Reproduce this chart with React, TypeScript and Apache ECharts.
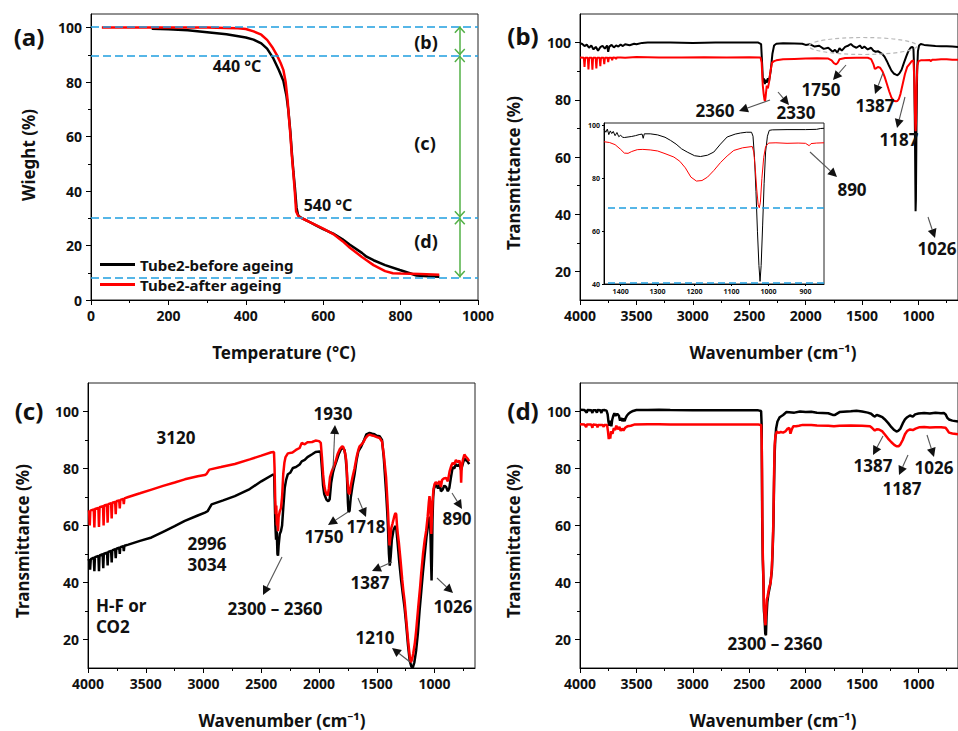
import React, { useEffect, useRef } from "react";
import * as echarts from "echarts";

// ---------- data ----------
const tgaBefore: number[][] = [
  [157, 99.6], [200, 99.4], [250, 99.0], [300, 98.3], [350, 97.6], [400, 96.4], [420, 95.6], [440, 94.2],
  [455, 92.3], [470, 89.0], [485, 84.5], [497, 80.5], [505, 75.0], [510, 69.5], [515, 62.0], [519, 54.0],
  [523, 47.0], [527, 41.0], [531, 34.0], [535, 31.2], [540, 30.4], [560, 29.0], [580, 27.5], [600, 26.0],
  [626, 24.4], [650, 22.3], [669, 20.3], [700, 17.3], [712, 15.9], [730, 14.6], [760, 12.8], [798, 11.0],
  [820, 10.0], [841, 9.0], [870, 8.7], [900, 8.5],
];
const tgaAfter: number[][] = [
  [28, 100], [100, 100], [200, 100], [300, 100], [350, 99.9], [380, 99.8], [400, 99.5], [420, 98.6],
  [440, 97.4], [455, 95.5], [470, 92.5], [480, 90.0], [490, 87.0], [497, 84.5], [503, 80.0], [508, 73.5],
  [512, 66.0], [515, 61.0], [519, 53.0], [523, 46.5], [527, 39.0], [530, 32.5], [535, 31.0], [540, 30.3],
  [560, 29.0], [600, 26.2], [626, 24.2], [650, 21.6], [669, 19.2], [700, 15.8], [712, 14.6], [730, 12.8],
  [760, 10.6], [780, 9.8], [800, 9.7], [850, 9.5], [900, 9.3],
];
const tgaGuides = [100.5, 89.8, 30.2, 8.3];
const tgaRegionX = 953;

const bBlack: number[][] = [
  [4000, 99.8], [3980, 99.5], [3960, 98.8], [3940, 99.3], [3920, 98.2], [3900, 99.0], [3880, 97.6], [3860, 98.5],
  [3840, 97.2], [3820, 98.4], [3800, 98.9], [3780, 97.9], [3760, 99.0], [3750, 96.8], [3740, 98.6], [3720, 99.2],
  [3700, 98.3], [3680, 99.0], [3660, 98.6], [3640, 99.3], [3620, 98.8], [3600, 99.4], [3560, 99.1], [3520, 99.6],
  [3500, 99.4], [3450, 99.9], [3400, 100], [3200, 100], [3000, 99.9], [2800, 100], [2600, 100], [2420, 100],
  [2395, 99.5], [2385, 92], [2378, 86], [2370, 87.5], [2362, 85.5], [2355, 87], [2345, 86], [2335, 87.5],
  [2325, 86.5], [2310, 90], [2295, 96], [2280, 99], [2260, 99.6], [2200, 99.8], [2100, 99.7], [2030, 99.6],
  [2000, 99.2], [1960, 99.4], [1920, 98.6], [1880, 98.9], [1840, 97.8], [1800, 98.2], [1760, 96.8], [1740, 97.5],
  [1720, 96.5], [1700, 98], [1680, 97.2], [1650, 98.5], [1620, 99], [1600, 99.5], [1580, 98.8], [1550, 98.2],
  [1520, 99], [1500, 98], [1480, 98.6], [1450, 97.6], [1420, 98.2], [1400, 97.2], [1380, 96.8], [1360, 97],
  [1340, 96.5], [1320, 96], [1300, 95], [1280, 93.5], [1260, 91.8], [1240, 90.2], [1220, 89.2], [1200, 88.8],
  [1187, 88.6], [1170, 89.2], [1150, 90.5], [1130, 92.8], [1110, 95], [1090, 97], [1070, 98.2], [1055, 98.5],
  [1045, 98], [1038, 90], [1032, 70], [1028, 50], [1026, 41], [1023, 45], [1018, 70], [1012, 90], [1005, 97],
  [995, 99], [980, 99.5], [950, 99.2], [900, 99], [850, 98.8], [800, 98.7], [750, 98.7], [700, 98.6], [650, 98.5],
];
const bRed: number[][] = [
  [4000, 94.8], [3966, 94.7], [3960, 91.5], [3954, 94.7], [3931, 94.7], [3925, 90.6], [3919, 94.7],
  [3896, 94.7], [3890, 90.5], [3884, 94.7], [3861, 94.7], [3855, 91], [3849, 94.7], [3826, 94.7], [3820, 91.8],
  [3814, 94.7], [3791, 94.7], [3785, 92.5], [3779, 94.7], [3756, 94.7], [3750, 93.2], [3744, 94.7],
  [3721, 94.7], [3715, 93.8], [3709, 94.8], [3686, 94.7], [3680, 94.2], [3674, 94.8], [3640, 94.8],
  [3600, 94.7], [3500, 95], [3300, 94.8], [3100, 94.8], [2900, 94.9], [2700, 94.8], [2500, 94.9], [2400, 94.8],
  [2390, 93], [2380, 85], [2372, 82], [2365, 80], [2360, 79.5], [2355, 81], [2345, 85], [2335, 84], [2325, 86],
  [2312, 90], [2298, 93], [2280, 93.5], [2260, 93.8], [2200, 94.2], [2100, 94.3], [2000, 94.4], [1900, 94.5],
  [1800, 94.4], [1770, 93.8], [1750, 92.8], [1730, 92.4], [1715, 93], [1700, 94.2], [1650, 94.6], [1550, 94.7],
  [1450, 94.7], [1420, 94.2], [1400, 92.5], [1387, 90.8], [1375, 91], [1360, 91.5], [1340, 91.2], [1320, 90],
  [1300, 88], [1280, 85.5], [1260, 83], [1240, 80.8], [1220, 79.7], [1200, 79.5], [1187, 79.6], [1175, 80.2],
  [1160, 82], [1140, 85.5], [1120, 89], [1100, 91.5], [1080, 92.5], [1060, 93.5], [1045, 93.8], [1038, 88],
  [1032, 76], [1028, 70], [1026, 69], [1022, 72], [1017, 85], [1010, 92], [1000, 93.5], [980, 93.8], [950, 93.8],
  [900, 93.9], [890, 93.5], [880, 94], [850, 94], [800, 94.2], [750, 94.2], [700, 94], [650, 94],
];

const insetBlack: number[][] = [
  [1445, 98.6], [1440, 97.5], [1436, 98.7], [1432, 96.6], [1428, 98], [1424, 97], [1420, 97.8], [1415, 96.2],
  [1410, 97.4], [1405, 95.8], [1400, 96.4], [1395, 95.6], [1390, 95.5], [1380, 95.7], [1370, 95.9], [1360, 96.2],
  [1350, 96.6], [1342, 96.8], [1339, 95.2], [1336, 96.9], [1320, 96.9], [1300, 96.5], [1280, 95.6], [1265, 94.4],
  [1250, 93], [1235, 91.2], [1220, 90], [1200, 88.6], [1184, 88.3], [1165, 88.8], [1148, 90], [1130, 93],
  [1112, 95.7], [1090, 96.8], [1076, 97.2], [1060, 97.5], [1046, 97.5], [1042, 96], [1038, 88], [1034, 75],
  [1030, 60], [1026, 47], [1023, 41], [1020, 47], [1016, 62], [1012, 78], [1008, 90], [1003, 96], [998, 98.2],
  [990, 98.4], [950, 98.5], [900, 98.5], [870, 98.6], [860, 98.9], [850, 99],
];
const insetRed: number[][] = [
  [1445, 93.9], [1430, 93.6], [1415, 92.8], [1400, 91], [1390, 89.6], [1380, 89.5], [1370, 90.2], [1355, 90.9],
  [1340, 91], [1320, 90.8], [1300, 90.4], [1280, 89.4], [1256, 88.1], [1240, 86.5], [1225, 84], [1210, 80.5],
  [1195, 79], [1180, 79.2], [1165, 80.5], [1148, 83], [1130, 86], [1112, 88.5], [1094, 90.6], [1070, 91.6],
  [1044, 92.1], [1040, 90], [1036, 84], [1032, 76], [1028, 70], [1025, 68.9], [1022, 71], [1018, 80], [1013, 88],
  [1008, 92], [1000, 93.4], [980, 93.5], [950, 93.3], [920, 93.4], [900, 93.3], [890, 92.4], [885, 93.2],
  [870, 93.4], [850, 93.5],
];
const insetGuides = [68.9, 40.6];

const cBlack: number[][] = [
  [4000, 47.6], [3988, 48], [3982, 44.5], [3976, 48.2], [3950, 48.7], [3945, 44], [3940, 48.9], [3910, 49.3],
  [3905, 44], [3900, 49.5], [3873, 49.9], [3868, 45], [3863, 50.1], [3835, 50.5], [3830, 46], [3825, 50.7],
  [3800, 51.1], [3795, 47], [3790, 51.3], [3765, 51.7], [3760, 48.5], [3755, 51.9], [3730, 52.2], [3725, 50],
  [3720, 52.4], [3695, 52.7], [3690, 51], [3685, 52.9], [3651, 53.3],
  [3550, 54.6], [3450, 55.8], [3350, 57.8], [3250, 59.8], [3162, 61.6], [3050, 63.5], [2988, 64.5], [2965, 65],
  [2930, 67.4], [2830, 68.8], [2729, 70.3], [2600, 72.8], [2500, 75.5], [2398, 77.9], [2388, 77.5], [2384, 70],
  [2378, 60], [2372, 55], [2366, 58], [2360, 50], [2355, 49.4], [2350, 53], [2340, 57], [2330, 58], [2320, 60],
  [2310, 66], [2297, 73.2], [2285, 76], [2270, 78], [2250, 78.5], [2226, 80.2], [2200, 80.5], [2168, 81.4],
  [2150, 82.5], [2124, 83], [2100, 84], [2060, 85], [2030, 85.8], [1995, 86], [1985, 85.5], [1975, 80],
  [1965, 74], [1955, 71], [1945, 70], [1935, 69], [1920, 68.5], [1908, 69.2], [1895, 75], [1880, 78.5],
  [1865, 80.8], [1850, 82.5], [1830, 85], [1810, 86.8], [1793, 87.2], [1780, 86.5], [1770, 84], [1760, 79],
  [1750, 68], [1745, 64.8], [1736, 65.1], [1725, 70], [1710, 74], [1693, 77.9], [1675, 83], [1660, 86],
  [1634, 87.8], [1610, 90], [1590, 92], [1563, 92.5], [1540, 92.2], [1520, 92], [1500, 91.5], [1476, 91.3],
  [1455, 90], [1440, 84], [1430, 78], [1420, 72], [1410, 65], [1404, 60], [1395, 50], [1388, 45.9], [1380, 49],
  [1370, 55], [1355, 58.5], [1340, 59.8], [1332, 59.3], [1320, 54], [1305, 47], [1290, 41], [1275, 36],
  [1260, 31.3], [1245, 25], [1230, 18], [1215, 12.5], [1200, 10.4], [1188, 10.2], [1175, 12], [1160, 16],
  [1145, 22], [1130, 30], [1115, 37], [1102, 43], [1085, 50], [1070, 56], [1059, 59.3], [1048, 62.5],
  [1040, 63], [1034, 55], [1030, 47], [1026, 40.7], [1022, 50], [1018, 62], [1012, 70], [1005, 73], [987, 74.4],
  [970, 73], [955, 74.5], [945, 72], [930, 72.6], [915, 74], [900, 73.5], [885, 72], [872, 73.2], [860, 76.5],
  [843, 80.5], [830, 80], [815, 81.5], [800, 80.8], [785, 81.5], [770, 79.5], [755, 81.8], [742, 83.5],
  [730, 83], [715, 82.5], [700, 81.5],
];
const cRed: number[][] = [
  [4000, 64.8], [3990, 65], [3985, 60], [3980, 65.2], [3950, 65.6], [3945, 59.3], [3940, 65.8], [3910, 66.2],
  [3905, 59.5], [3900, 66.4], [3870, 66.8], [3865, 60], [3860, 67], [3835, 67.3], [3830, 61], [3825, 67.5],
  [3800, 67.8], [3795, 62.5], [3790, 68], [3765, 68.3], [3760, 64], [3755, 68.5], [3730, 68.8], [3725, 66],
  [3720, 69], [3695, 69.3], [3690, 67.5], [3685, 69.5], [3651, 70],
  [3550, 71.3], [3450, 72.6], [3350, 73.9], [3250, 75.1], [3162, 76.2], [3050, 77.3], [2990, 77.7], [2975, 78],
  [2950, 79.6], [2850, 80.5], [2729, 81.6], [2600, 83.2], [2500, 84.5], [2412, 85.7], [2390, 85.8], [2385, 80],
  [2380, 70], [2375, 64], [2370, 67], [2365, 60], [2360, 64], [2355, 58], [2350, 63], [2340, 65], [2330, 66],
  [2320, 70], [2310, 78], [2300, 82], [2290, 84], [2270, 85.3], [2230, 85.6], [2200, 86.5], [2168, 87.2],
  [2150, 89], [2124, 88.5], [2100, 89.2], [2060, 89.3], [2030, 89.8], [2000, 89.6], [1985, 89], [1975, 84],
  [1965, 78], [1955, 74], [1945, 72], [1935, 71], [1925, 70.5], [1915, 73], [1905, 77], [1890, 79], [1880, 80],
  [1860, 82], [1840, 85], [1820, 86.8], [1800, 87.8], [1790, 87.5], [1775, 85.5], [1765, 83], [1755, 76],
  [1745, 71.5], [1735, 71], [1725, 74], [1710, 77], [1693, 80], [1675, 84], [1660, 86.5], [1649, 87.8],
  [1620, 89], [1600, 90.5], [1580, 91.5], [1563, 91.9], [1540, 91.6], [1520, 91.4], [1500, 91], [1476, 90.7],
  [1455, 89.5], [1440, 85], [1430, 81], [1420, 77], [1410, 70], [1402, 64], [1395, 57], [1390, 53], [1385, 55],
  [1375, 59], [1365, 60.5], [1350, 63], [1340, 64.3], [1332, 64], [1325, 60], [1318, 57], [1309, 54], [1295, 48],
  [1280, 41], [1270, 37], [1260, 33.7], [1245, 27], [1230, 20], [1215, 14], [1205, 12], [1195, 13], [1185, 15],
  [1170, 19], [1159, 23.2], [1140, 32], [1125, 38.5], [1116, 43], [1100, 50], [1085, 55], [1073, 58.1],
  [1060, 63], [1050, 68], [1044, 70.3], [1038, 68], [1032, 60], [1028, 57], [1024, 62], [1018, 68], [1010, 72.5],
  [1001, 74.4], [990, 75.2], [975, 74.5], [958, 75.6], [945, 73.5], [935, 76], [920, 76.5], [900, 76.7],
  [885, 75.5], [870, 79], [855, 81], [843, 82], [830, 81.5], [815, 83], [800, 82.2], [785, 82.8], [775, 81],
  [770, 75], [765, 80.5], [755, 83], [742, 84.9], [730, 84.2], [715, 83.5], [700, 82.6],
];

const dBlack: number[][] = [
  [4000, 100.6], [3960, 100.5], [3940, 99.6], [3935, 100.5], [3900, 100.4], [3890, 99.5], [3885, 100.4],
  [3860, 100.4], [3850, 99.6], [3845, 100.5], [3820, 100.4], [3810, 99.5], [3805, 100.4], [3780, 100.5],
  [3765, 100.3], [3755, 99], [3748, 96.5], [3740, 95], [3730, 96.8], [3722, 94.8], [3715, 97], [3705, 98.5],
  [3695, 99.4], [3685, 98.5], [3670, 99.2], [3655, 98.5], [3645, 96.8], [3635, 97.8], [3625, 96.6], [3615, 97.6],
  [3605, 96.6], [3595, 97.8], [3585, 98.5], [3570, 99.2], [3550, 99.8], [3530, 100.2], [3500, 100.5],
  [3400, 100.5], [3300, 100.6], [3200, 100.5], [3000, 100.4], [2800, 100.4], [2600, 100.4], [2420, 100.4],
  [2395, 100.2], [2390, 95], [2388, 80], [2385, 62], [2380, 48], [2374, 40], [2370, 30], [2365, 28], [2358, 22],
  [2352, 21.5], [2347, 28], [2340, 33], [2330, 36], [2315, 39], [2300, 44], [2292, 52], [2286, 60], [2280, 75],
  [2275, 85], [2270, 90], [2262, 94], [2250, 96.5], [2230, 98], [2200, 98.8], [2170, 99.8], [2100, 99.6],
  [2050, 100], [2000, 99.8], [1950, 99.9], [1900, 99.6], [1800, 99.4], [1760, 98.8], [1740, 98.8], [1700, 99.8],
  [1600, 100.1], [1550, 100.3], [1500, 100], [1450, 99.6], [1420, 99.2], [1400, 98.5], [1387, 98.2],
  [1370, 98.8], [1350, 98.5], [1320, 98], [1300, 97.3], [1270, 96], [1240, 94.5], [1215, 93.5], [1195, 93],
  [1180, 93.2], [1160, 94], [1140, 95.8], [1120, 97.2], [1100, 98], [1076, 98.6], [1050, 98.2], [1030, 99],
  [1000, 99.3], [950, 99.5], [900, 99.3], [850, 99.6], [800, 99.4], [775, 99.5], [760, 99], [745, 97.8],
  [730, 97.2], [700, 96.8], [650, 96.5],
];
const dRed: number[][] = [
  [4000, 95.5], [3960, 95.4], [3945, 94.5], [3940, 95.4], [3900, 95.4], [3890, 94.3], [3885, 95.4], [3850, 95.3],
  [3845, 94.4], [3840, 95.3], [3800, 95.3], [3790, 94.6], [3785, 95.3], [3760, 95.3], [3752, 93], [3745, 90.3],
  [3738, 92], [3732, 90.5], [3725, 93], [3712, 92.2], [3700, 94.2], [3690, 93.5], [3678, 95], [3665, 93.8],
  [3650, 94.6], [3640, 93.2], [3628, 94], [3615, 93.3], [3600, 94.3], [3580, 94.8], [3550, 95], [3520, 95.4],
  [3400, 95.5], [3300, 95.5], [3200, 95.4], [3000, 95.4], [2800, 95.4], [2600, 95.4], [2420, 95.4],
  [2395, 95.3], [2390, 90], [2387, 80], [2384, 62], [2380, 50], [2375, 42], [2370, 32], [2365, 29], [2360, 26],
  [2356, 25], [2350, 30], [2345, 34], [2338, 35], [2325, 38], [2310, 40], [2300, 45], [2292, 53], [2286, 62],
  [2280, 78], [2275, 88], [2268, 91.5], [2255, 93], [2240, 92.5], [2220, 92.8], [2200, 92.6], [2180, 93],
  [2160, 94], [2145, 94.2], [2135, 92.2], [2125, 93.5], [2110, 94.8], [2085, 94.8], [2060, 95], [2027, 95.3],
  [1950, 95.3], [1900, 95.1], [1800, 95], [1750, 94.8], [1700, 95], [1600, 95.1], [1500, 95], [1430, 94.8],
  [1410, 94.2], [1387, 93.3], [1370, 93.8], [1350, 93.7], [1320, 93], [1300, 92], [1270, 90.5], [1240, 89.2],
  [1215, 88.3], [1195, 87.8], [1177, 87.8], [1160, 88.5], [1140, 90], [1120, 92], [1100, 93.2], [1076, 93.7],
  [1050, 93.5], [1026, 94], [990, 94.5], [950, 94.6], [900, 94.4], [850, 94.5], [800, 94.5], [760, 94.3],
  [745, 93.5], [730, 92.6], [700, 92.3], [650, 92],
];

const tempTicks = [0, 200, 400, 600, 800, 1000];
const tempMinor = [100, 300, 500, 700, 900];
const weightTicks = [0, 20, 40, 60, 80, 100];
const weightMinor = [10, 30, 50, 70, 90];
const waveTicks = [1000, 1500, 2000, 2500, 3000, 3500, 4000];
const waveMinor = [750, 1250, 1750, 2250, 2750, 3250, 3750];
const transTicks = [20, 40, 60, 80, 100];
const transMinor = [30, 50, 70, 90];
const insetXTicks = [900, 1000, 1100, 1200, 1300, 1400];
const insetYTicks = [40, 60, 80, 100];

const BEFORE = "Tube2-before ageing";
const AFTER = "Tube2-after ageing";

// ---------- styling helpers ----------
const FONT = "'Noto Sans', 'DejaVu Sans', sans-serif";
const BLACK = "#000000";
const RED = "#ff0000";
const BLUE = "#1f9ee0";
const GREEN = "#52b046";

const xAxis: any[] = [];
const yAxis: any[] = [];

function addAxis(list: any[], pos: string, grid: number, min: number, max: number, inverse: boolean,
  labels: number[], minor: number[], fontSize: number, tickLen: number, margin: number): number {
  const idx = list.length;
  list.push({
    type: "value", gridIndex: grid, position: pos, min, max, inverse,
    axisLine: { show: true, onZero: false, lineStyle: { color: "#000", width: 1 } },
    axisTick: { show: true, customValues: labels, length: tickLen, lineStyle: { color: "#000", width: 1 } },
    axisLabel: {
      customValues: labels, fontSize, fontWeight: "bold", color: "#111", fontFamily: FONT, margin,
      formatter: (v: number) => String(v),
    },
    splitLine: { show: false },
  });
  if (minor.length) {
    list.push({
      type: "value", gridIndex: grid, position: pos, min, max, inverse,
      axisLine: { show: false },
      axisTick: { show: true, customValues: minor, length: Math.max(2, tickLen - 2), lineStyle: { color: "#000", width: 1 } },
      axisLabel: { show: false },
      splitLine: { show: false },
    });
  }
  return idx;
}

// grids: 0 = (a), 1 = (b), 2 = inset, 3 = (c), 4 = (d)
const grids = [
  { left: 91, top: 14, width: 387, height: 286 },
  { left: 580, top: 14, width: 387, height: 286 },
  { left: 604, top: 123, width: 220, height: 161, backgroundColor: "#fff" },
  { left: 88, top: 383, width: 387, height: 285 },
  { left: 580, top: 383, width: 387, height: 285 },
].map((g) => ({ show: true, borderColor: "#222", borderWidth: 1, backgroundColor: "transparent", ...g }));

const xa = addAxis(xAxis, "bottom", 0, 0, 1000, false, tempTicks, tempMinor, 14, 5, 8);
const ya = addAxis(yAxis, "left", 0, 0, 105, false, weightTicks, weightMinor, 14, 5, 9);
const xb = addAxis(xAxis, "bottom", 1, 650, 4000, true, waveTicks, waveMinor, 14, 5, 8);
const yb = addAxis(yAxis, "left", 1, 10, 110, false, transTicks, transMinor, 14, 5, 9);
const xi = addAxis(xAxis, "bottom", 2, 850, 1445, true, insetXTicks, [], 7, 2, 4);
const yi = addAxis(yAxis, "left", 2, 40, 101, false, insetYTicks, [], 7, 2, 4);
const xc = addAxis(xAxis, "bottom", 3, 650, 4000, true, waveTicks, waveMinor, 14, 5, 8);
const yc = addAxis(yAxis, "left", 3, 10, 110, false, transTicks, transMinor, 14, 5, 9);
const xd = addAxis(xAxis, "bottom", 4, 650, 4000, true, waveTicks, waveMinor, 14, 5, 8);
const yd = addAxis(yAxis, "left", 4, 10, 110, false, transTicks, transMinor, 14, 5, 9);

function line(name: string, data: number[][], x: number, y: number, color: string, width: number, extra: any = {}) {
  return {
    type: "line", name, data, xAxisIndex: x, yAxisIndex: y, showSymbol: false, symbol: "none",
    lineStyle: { color, width }, itemStyle: { color }, z: 3, ...extra,
  };
}

// open chevron whose tip sits at the centre of a 16x16 box (so the tip lands on the end point)
const CHEVRON = "path://M0,0 L0.01,0 L0,0.01 Z M8,8 L13.5,14 L12.4,15 L8,10.2 L3.6,15 L2.5,14 Z M16,16 L15.99,16 L16,15.99 Z";

// ---------- annotations ----------
function txt(text: string, x: number, y: number, size = 17, align = "center", rotation = 0): any {
  return {
    type: "text", x, y, rotation, z: 20,
    style: {
      text, fill: "#111", fontSize: size, fontWeight: "bold", fontFamily: FONT,
      textAlign: align, align, textVerticalAlign: "middle", verticalAlign: "middle",
    },
  };
}
function arrow(x1: number, y1: number, x2: number, y2: number): any[] {
  const ang = Math.atan2(y2 - y1, x2 - x1);
  const head = 9;
  const hw = 4.5;
  const bx = x2 - head * Math.cos(ang);
  const by = y2 - head * Math.sin(ang);
  const px = -Math.sin(ang) * hw;
  const py = Math.cos(ang) * hw;
  return [
    { type: "line", z: 20, shape: { x1, y1, x2: bx, y2: by }, style: { stroke: "#555", lineWidth: 1.1 } },
    { type: "polygon", z: 20, shape: { points: [[x2, y2], [bx + px, by + py], [bx - px, by - py]] }, style: { fill: "#111" } },
  ];
}

const graphics: any[] = [
  // panel labels
  txt("(a)", 29, 36, 24), txt("(b)", 523, 35, 24), txt("(c)", 29, 410, 24), txt("(d)", 523, 410, 24),
  // axis titles
  txt("Wieght (%)", 28, 155, 17, "center", Math.PI / 2),
  txt("Temperature (°C)", 284, 352, 17),
  txt("Transmittance (%)", 513, 173, 17, "center", Math.PI / 2),
  txt("Wavenumber (cm⁻¹)", 773, 352, 17),
  txt("Transmittance (%)", 22, 541, 17, "center", Math.PI / 2),
  txt("Wavenumber (cm⁻¹)", 282, 720, 17),
  txt("Transmittance (%)", 513, 541, 17, "center", Math.PI / 2),
  txt("Wavenumber (cm⁻¹)", 773, 720, 17),
  // (a)
  txt("440 °C", 237, 66, 16), txt("540 °C", 328, 205, 16),
  txt("(b)", 426, 42, 18), txt("(c)", 425, 143, 18), txt("(d)", 426, 241, 18),
  // (b)
  { type: "ellipse", z: 19, shape: { cx: 863, cy: 46, rx: 54, ry: 8.5 }, style: { fill: "none", stroke: "#b8b8b8", lineWidth: 1.2, lineDash: [4, 3] } },
  txt("2360", 715, 110), txt("2330", 796, 112), txt("1750", 821, 89), txt("1387", 875, 105),
  txt("1187", 899, 139), txt("890", 852, 189), txt("1026", 937, 248),
  ...arrow(770, 100, 739, 111), ...arrow(778, 92, 789, 105), ...arrow(846, 65, 833, 80),
  ...arrow(883, 73, 875, 94), ...arrow(905, 97, 897, 128), ...arrow(810, 152, 837, 177),
  ...arrow(928, 217, 935, 238),
  // (c)
  txt("3120", 176, 437), txt("2996", 207, 543), txt("3034", 207, 564),
  txt("H-F or", 96, 605, 17, "left"), txt("CO2", 96, 626, 17, "left"),
  txt("2300 – 2360", 275, 608), txt("1930", 333, 413), txt("1750", 324, 536), txt("1718", 366, 526),
  txt("1387", 370, 582), txt("1210", 375, 637), txt("1026", 453, 606), txt("890", 457, 518),
  ...arrow(282, 557, 263, 595), ...arrow(333, 470, 335, 425), ...arrow(348, 512, 328, 525),
  ...arrow(358, 498, 366, 517), ...arrow(392, 562, 372, 571), ...arrow(410, 662, 392, 648),
  ...arrow(437, 578, 453, 593), ...arrow(452, 493, 462, 509),
  // (d)
  txt("1387", 873, 465), txt("1187", 902, 488), txt("1026", 934, 467), txt("2300 – 2360", 775, 643),
  ...arrow(883, 436, 873, 455), ...arrow(908, 455, 899, 475), ...arrow(927, 435, 934, 457),
];

const series: any[] = [
  line(BEFORE, tgaBefore, xa, ya, BLACK, 2.5, {
    markLine: {
      silent: true, symbol: "none", label: { show: false }, z: 4,
      lineStyle: { color: BLUE, type: [8, 4], width: 1.5, opacity: 1 },
      emphasis: { disabled: true },
      data: tgaGuides.map((v) => ({ yAxis: v, lineStyle: { color: BLUE, type: [8, 4], width: 1.5 } })),
    },
  }),
  line(AFTER, tgaAfter, xa, ya, RED, 2.5, {
    markLine: {
      silent: true, symbol: [CHEVRON, CHEVRON], symbolSize: 16, label: { show: false }, z: 4,
      lineStyle: { color: GREEN, type: "solid", width: 1.5 },
      emphasis: { disabled: true },
      data: [
        [{ coord: [tgaRegionX, tgaGuides[0]] }, { coord: [tgaRegionX, tgaGuides[1]] }],
        [{ coord: [tgaRegionX, tgaGuides[1]] }, { coord: [tgaRegionX, tgaGuides[2]] }],
        [{ coord: [tgaRegionX, tgaGuides[2]] }, { coord: [tgaRegionX, tgaGuides[3]] }],
      ],
    },
  }),
  line("b-before", bBlack, xb, yb, BLACK, 2),
  line("b-after", bRed, xb, yb, RED, 2),
  line("inset-before", insetBlack, xi, yi, BLACK, 1, {
    z: 6,
    markLine: {
      silent: true, symbol: "none", label: { show: false }, z: 7,
      lineStyle: { color: BLUE, type: [7, 4], width: 1.5 },
      emphasis: { disabled: true },
      data: insetGuides.map((v) => ({ yAxis: v, lineStyle: { color: BLUE, type: [7, 4], width: 1.5 } })),
    },
  }),
  line("inset-after", insetRed, xi, yi, RED, 1, { z: 6 }),
  line("c-before", cBlack, xc, yc, BLACK, 2.5),
  line("c-after", cRed, xc, yc, RED, 2.5),
  line("d-before", dBlack, xd, yd, BLACK, 2.5),
  line("d-after", dRed, xd, yd, RED, 2.5),
];

const option: any = {
  animation: false,
  backgroundColor: "#fff",
  textStyle: { fontFamily: FONT },
  grid: grids,
  xAxis,
  yAxis,
  legend: {
    data: [BEFORE, AFTER], orient: "vertical", left: 95, top: 252, itemWidth: 35, itemHeight: 3,
    itemGap: 5, icon: "rect", selectedMode: false,
    textStyle: { fontSize: 15, fontWeight: "bold", color: "#111", fontFamily: FONT },
  },
  series,
  graphic: { elements: graphics },
};

export default function App() {
  const ref = useRef<HTMLDivElement>(null);
  useEffect(() => {
    if (!ref.current) return;
    const chart = echarts.init(ref.current, undefined, { renderer: "svg" });
    chart.setOption(option);
    return () => chart.dispose();
  }, []);
  return (
    <div
      ref={ref}
      style={{ position: "fixed", left: 0, top: 0, width: 958, height: 731, background: "#fff" }}
    />
  );
}
